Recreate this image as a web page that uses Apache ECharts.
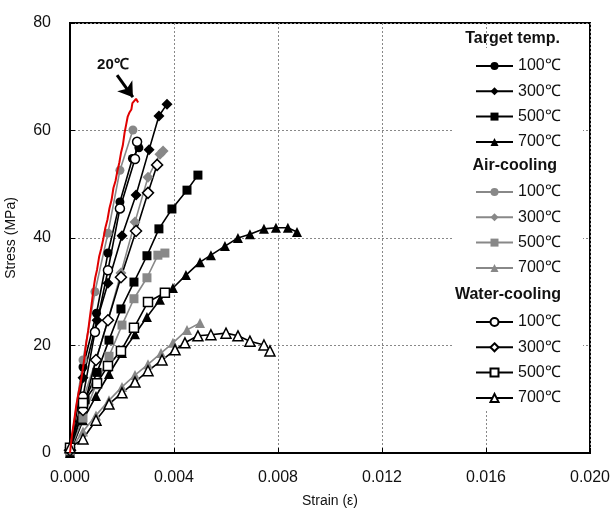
<!DOCTYPE html>
<html>
<head>
    <meta charset="utf-8">
    <title>Stress-strain</title>
    <script src="https://cdn.jsdelivr.net/npm/echarts@6/dist/echarts.min.js"></script>
</head>
<body style="margin:0">
    <div id="main" style="width:613px;height:513px;"></div>
    <script type="text/javascript">
        // [strain, stress (MPa)]
        var red20 = [[0,0],[0.00008,3.5],[0.00016,6],[0.00024,8.8],[0.00032,11],[0.0004,12.8],[0.00048,15.2],[0.00055,17.5],[0.00062,20.3],[0.0007,22.8],[0.00076,25.1],[0.00084,28],[0.0009,30.4],[0.00097,32.6],[0.00104,34.1],[0.00112,36.5],[0.0012,38],[0.00128,39.8],[0.00136,41.9],[0.00144,43.4],[0.00152,45.6],[0.0016,47.1],[0.00167,49.3],[0.00175,50.6],[0.00182,52.4],[0.0019,54.1],[0.00196,55.8],[0.00203,57.2],[0.0021,59.6],[0.00216,61.1],[0.00222,62.6],[0.00228,63.3],[0.00236,63.9],[0.0024,65.1],[0.00247,65.4],[0.00254,65.9],[0.0026,65.6],[0.00262,65.2]];

        var target100 = [[0,0.5],[0.0005,16],[0.00102,26],[0.00146,37.2],[0.00192,46.7],[0.0024,54.8],[0.00265,56.8]];
        var target300 = [[0,0.5],[0.0005,14],[0.00104,24.7],[0.00146,31.6],[0.002,40.4],[0.00254,48],[0.00304,56.4],[0.00342,62.7],[0.00373,64.9]];
        var target500 = [[0,0],[0.00058,9.9],[0.00104,15],[0.0015,21],[0.00196,26.8],[0.00246,31.8],[0.00296,36.7],[0.00342,41.7],[0.00392,45.4],[0.0045,48.9],[0.00492,51.7]];
        var target700 = [[0,0],[0.0005,6.1],[0.001,10.6],[0.0015,14.7],[0.002,18.6],[0.0025,22.1],[0.00296,25.3],[0.00346,28.5],[0.00396,30.7],[0.00446,33.1],[0.005,35.5],[0.00542,36.8],[0.00596,38.5],[0.00646,40],[0.00692,40.7],[0.00746,41.7],[0.00792,41.9],[0.00838,41.9],[0.00873,41.1]];

        var air100 = [[0,0.5],[0.0005,17.3],[0.00096,30],[0.00146,40.9],[0.00192,52.6],[0.00242,60.1]];
        var air300 = [[0,0.5],[0.0005,9.9],[0.001,17.3],[0.00146,24.7],[0.00196,33.5],[0.0025,43],[0.003,51.3],[0.00346,55.6],[0.00358,56.2]];
        var air500 = [[0,0.5],[0.0005,6.5],[0.001,12.7],[0.0015,18],[0.002,23.8],[0.00246,28.7],[0.00296,32.6],[0.00338,36.8],[0.00365,37.2]];
        var air700 = [[0,0.5],[0.0005,4],[0.001,7],[0.0015,9.8],[0.002,12.3],[0.0025,14.5],[0.003,16.5],[0.0035,18.6],[0.00396,20.5],[0.0045,22.9],[0.005,24.2]];

        var water100 = [[0,1],[0.0005,10.5],[0.00096,22.5],[0.00146,34],[0.00192,45.5],[0.0025,54.7],[0.00258,57.9]];
        var water300 = [[0,0.5],[0.0005,8],[0.001,17.3],[0.00146,24.7],[0.00196,32.7],[0.00254,41.3],[0.003,48.4],[0.00335,53.6]];
        var water500 = [[0,1],[0.0005,9.3],[0.00104,13],[0.00146,16.2],[0.00196,19],[0.00246,23.3],[0.003,28.1],[0.00365,29.8]];
        var water700 = [[0,1],[0.0005,2.6],[0.001,6.1],[0.0015,9.1],[0.002,11.2],[0.0025,13.2],[0.003,15.3],[0.00354,17.3],[0.00404,19.2],[0.00442,20.5],[0.00492,21.8],[0.00542,22],[0.006,22.3],[0.00646,21.8],[0.00692,20.8],[0.00746,20.1],[0.00769,19]];

        var temps = ['100℃', '300℃', '500℃', '700℃'];
        var groups = ['Target temp.', 'Air-cooling', 'Water-cooling'];
        var groupData = [
            [target100, target300, target500, target700],
            [air100, air300, air500, air700],
            [water100, water300, water500, water700]
        ];

        var font = 'Arial, "Liberation Sans", sans-serif';
        var symbols = ['circle', 'diamond', 'rect', 'triangle'];
        var symSizes = [9, 11, 9, 10];
        var lineColors = ['#000', '#888', '#000'];
        var fillColors = ['#000', '#888', '#fff'];

        var series = [];
        var legends = [];
        var legendTops = [58, 184, 314];
        groups.forEach(function (g, gi) {
            var names = [];
            temps.forEach(function (t, ti) {
                var name = g + ' ' + t;
                names.push(name);
                series.push({
                    type: 'line',
                    name: name,
                    data: groupData[gi][ti],
                    symbol: symbols[ti],
                    symbolSize: symSizes[ti],
                    showAllSymbol: true,
                    lineStyle: {color: lineColors[gi], width: 1.6},
                    itemStyle: {color: fillColors[gi], borderColor: lineColors[gi], borderWidth: gi === 2 ? 1.5 : 0},
                    z: 2
                });
            });
            legends.push({
                orient: 'vertical',
                left: 475,
                top: legendTops[gi],
                padding: 0,
                itemGap: 9.3,
                itemWidth: 37,
                itemHeight: 10,
                data: names,
                formatter: function (n) { return n.slice(n.lastIndexOf(' ') + 1); },
                textStyle: {fontFamily: font, fontSize: 16, color: '#111'},
                z: 6
            });
        });

        series.push({
            type: 'line',
            name: '20℃',
            data: red20,
            symbol: 'none',
            lineStyle: {color: '#e00000', width: 2},
            z: 3,
            markLine: {
                silent: true,
                symbol: ['none', 'arrow'],
                symbolSize: 14,
                label: {show: false},
                lineStyle: {color: '#000', width: 3, type: 'solid'},
                data: [[{coord: [0.00181, 70.3]}, {coord: [0.00242, 66.2]}]]
            },
            markPoint: {
                silent: true,
                symbol: 'circle',
                symbolSize: 0,
                label: {show: true, formatter: '20℃', fontFamily: font, fontWeight: 'bold', fontSize: 15, color: '#111'},
                data: [{coord: [0.00165, 72.2]}]
            }
        });

        var myChart = echarts.init(document.getElementById('main'));
        var option = {
            animation: false,
            backgroundColor: '#fff',
            grid: {left: 70, right: 23, top: 23, bottom: 60, show: true, borderColor: '#000', borderWidth: 2, outerBoundsMode: 'none'},
            legend: legends,
            xAxis: {
                type: 'value', min: 0, max: 0.02, interval: 0.004,
                name: 'Strain (ε)', nameLocation: 'middle', nameGap: 41,
                nameTextStyle: {fontFamily: font, fontSize: 14, color: '#111'},
                axisLine: {lineStyle: {color: '#000', width: 2}},
                axisTick: {show: true, inside: true, length: 5, lineStyle: {color: '#000'}},
                axisLabel: {fontFamily: font, fontSize: 16, color: '#111', margin: 17, formatter: function (v) { return v.toFixed(3); }},
                splitLine: {lineStyle: {color: '#888', type: [2, 2], width: 1}}
            },
            yAxis: {
                type: 'value', min: 0, max: 80, interval: 20,
                name: 'Stress (MPa)', nameLocation: 'middle', nameGap: 52,
                nameTextStyle: {fontFamily: font, fontSize: 14, color: '#111'},
                axisLine: {lineStyle: {color: '#000', width: 2}},
                axisTick: {show: true, inside: true, length: 5, lineStyle: {color: '#000'}},
                axisLabel: {fontFamily: font, fontSize: 16, color: '#111', margin: 19},
                splitLine: {lineStyle: {color: '#888', type: [2, 2], width: 1}}
            },
            graphic: [
                {type: 'rect', shape: {x: 452, y: 48, width: 131, height: 362}, style: {fill: '#fff'}, z: 3, silent: true},
                {type: 'text', right: 53, top: 31, z: 7, style: {text: groups[0], font: 'bold 16px ' + font, fill: '#111'}},
                {type: 'text', right: 56, top: 158, z: 7, style: {text: groups[1], font: 'bold 16px ' + font, fill: '#111'}},
                {type: 'text', right: 52, top: 287, z: 7, style: {text: groups[2], font: 'bold 16px ' + font, fill: '#111'}}
            ],
            series: series
        };
        myChart.setOption(option);
    </script>
</body>
</html>
